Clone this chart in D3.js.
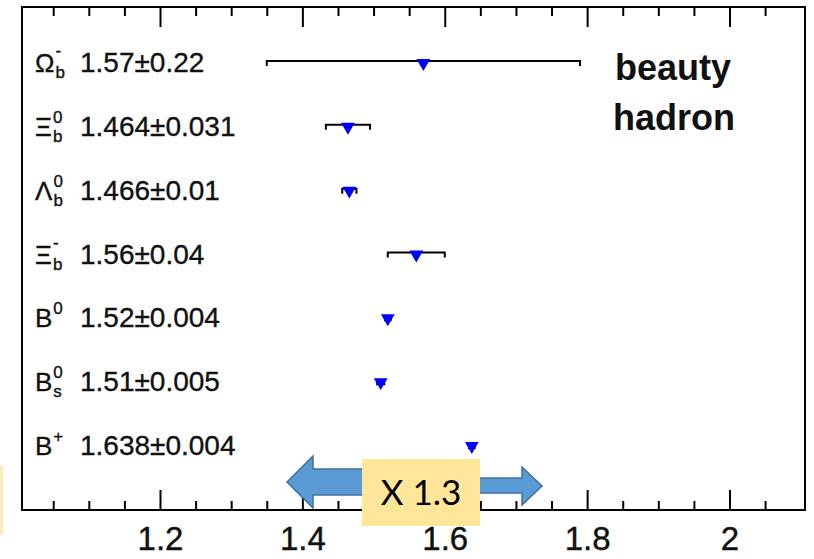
<!DOCTYPE html>
<html>
<head>
<meta charset="utf-8">
<script src="https://cdn.jsdelivr.net/npm/d3@7"></script>
<style>
  html, body { margin: 0; padding: 0; background: #fff; }
  svg { display: block; }
</style>
</head>
<body>
<svg id="chart" width="814" height="559"></svg>
<script>
// Lifetimes of beauty hadrons (ps), top row first
const symbols   = ["Ω", "Ξ", "Λ", "Ξ", "B", "B", "B"];
const supers    = ["-", "0", "0", "-", "0", "0", "+"];
const subs      = ["b", "b", "b", "b", "", "s", ""];
const lifetimes = [1.57, 1.464, 1.466, 1.56, 1.52, 1.51, 1.638];
const errors    = [0.22, 0.031, 0.01, 0.04, 0.004, 0.005, 0.004];

const majorTicks = [1.2, 1.4, 1.6, 1.8, 2.0];
const tickLabels = ["1.2", "1.4", "1.6", "1.8", "2"];
const minorTicks = [1.05, 1.1, 1.15, 1.25, 1.3, 1.35, 1.45, 1.5, 1.55,
                    1.65, 1.7, 1.75, 1.85, 1.9, 1.95, 2.05];

const svg = d3.select("#chart");
const frame = { left: 22, right: 805, top: 7, bottom: 510 };

const x = d3.scaleLinear().domain([1.2, 2.0]).range([160, 729.5]);
const y = d3.scalePoint().domain(d3.range(symbols.length)).range([62, 445]);

const font = "'Liberation Sans', Arial, Helvetica, sans-serif";
const ink = "#111";

// small pale note edge at the far left
svg.append("rect")
  .attr("x", -6).attr("y", 467).attr("width", 8).attr("height", 66)
  .attr("fill", "#fff0c4").attr("stroke", "#f6d98a").attr("stroke-width", 1);

// axes: major and minor ticks on bottom and mirrored on top
function styleAxis(g) {
  g.select(".domain").remove();
  g.selectAll(".tick line").attr("stroke", "#000").attr("stroke-width", 2);
}
svg.append("g").attr("transform", `translate(0,${frame.bottom})`)
  .call(d3.axisBottom(x).tickValues(majorTicks).tickSize(-20)
        .tickPadding(30).tickFormat((d, i) => tickLabels[i]))
  .call(styleAxis)
  .call(g => g.selectAll(".tick text")
        .attr("font-family", font).attr("font-size", 33)
        .attr("fill", ink).attr("stroke", ink).attr("stroke-width", 0.4)
        .attr("y", 40).attr("dy", 0));
svg.append("g").attr("transform", `translate(0,${frame.bottom})`)
  .call(d3.axisBottom(x).tickValues(minorTicks).tickSize(-9).tickFormat(""))
  .call(styleAxis);
svg.append("g").attr("transform", `translate(0,${frame.top})`)
  .call(d3.axisTop(x).tickValues(majorTicks).tickSize(-20).tickFormat(""))
  .call(styleAxis);
svg.append("g").attr("transform", `translate(0,${frame.top})`)
  .call(d3.axisTop(x).tickValues(minorTicks).tickSize(-9).tickFormat(""))
  .call(styleAxis);

// plot frame
svg.append("rect")
  .attr("x", frame.left).attr("y", frame.top)
  .attr("width", frame.right - frame.left).attr("height", frame.bottom - frame.top)
  .attr("fill", "none").attr("stroke", "#000").attr("stroke-width", 2);

// row labels: particle symbol with super/subscripts, then value ± error
const rows = svg.append("g")
  .attr("fill", ink).attr("stroke", ink).attr("stroke-width", 0.35)
  .selectAll("g.row")
  .data(lifetimes.map((v, i) => ({ i, v, e: errors[i] })))
  .join("g").attr("class", "row");

rows.each(function (d) {
  const g = d3.select(this);
  const base = y(d.i) + 10;
  const sym = g.append("text")
    .attr("x", 35).attr("y", base)
    .attr("font-family", font).attr("font-size", 26)
    .text(symbols[d.i]);
  const sx = 35 + sym.node().getComputedTextLength() + 1;
  g.append("text")
    .attr("x", sx).attr("y", base - (supers[d.i] === "-" ? 16 : 13))
    .attr("font-family", font).attr("font-size", 17)
    .text(supers[d.i]);
  if (subs[d.i]) {
    g.append("text")
      .attr("x", sx).attr("y", base + 6)
      .attr("font-family", font).attr("font-size", 17)
      .text(subs[d.i]);
  }
  g.append("text")
    .attr("x", 80).attr("y", base)
    .attr("font-family", font).attr("font-size", 28)
    .text(`${d.v}±${d.e}`);
});

// error bars with small end caps
const bars = svg.append("g").attr("stroke", "#000").attr("stroke-width", 2)
  .attr("fill", "none");
lifetimes.forEach((v, i) => {
  const e = errors[i];
  const cy = y(i);
  const x0 = x(v - e), x1 = x(v + e);
  if (x1 - x0 < 3) return;
  bars.append("path")
    .attr("d", `M${x0},${cy + 4}V${cy - 1}H${x1}V${cy + 4}`);
});

// central values: blue downward triangles
svg.append("g").selectAll("path.marker")
  .data(lifetimes)
  .join("path").attr("class", "marker")
  .attr("d", d3.symbol(d3.symbolTriangle, 82))
  .attr("transform", (v, i) => `translate(${x(v)},${y(i) + 1}) rotate(180)`)
  .attr("fill", "#0000ff");

// beauty hadron caption
const cap = svg.append("g").attr("font-family", font).attr("font-weight", "bold")
  .attr("font-size", 36).attr("fill", ink);
cap.append("text").attr("x", 615).attr("y", 80).text("beauty");
cap.append("text").attr("x", 613).attr("y", 130).text("hadron");

// scale-factor annotation: double arrow with label box
const arrowFill = "#5b9bd5", arrowStroke = "#41719c";
svg.append("path")
  .attr("d", "M287,482 L313,456 L313,469 L420,469 L420,495 L313,495 L313,508 Z")
  .attr("fill", arrowFill).attr("stroke", arrowStroke).attr("stroke-width", 1.5);
svg.append("path")
  .attr("d", "M420,478 L522,478 L522,467 L542,486 L522,505 L522,493 L420,493 Z")
  .attr("fill", arrowFill).attr("stroke", arrowStroke).attr("stroke-width", 1.5);
svg.append("rect")
  .attr("x", 362).attr("y", 459).attr("width", 118).attr("height", 67)
  .attr("fill", "#ffe699");
svg.append("text")
  .attr("x", 421).attr("y", 505).attr("text-anchor", "middle")
  .attr("font-family", "Lato, 'Open Sans', sans-serif").attr("font-size", 35)
  .attr("fill", "#000")
  .text("X 1.3");
</script>
</body>
</html>
